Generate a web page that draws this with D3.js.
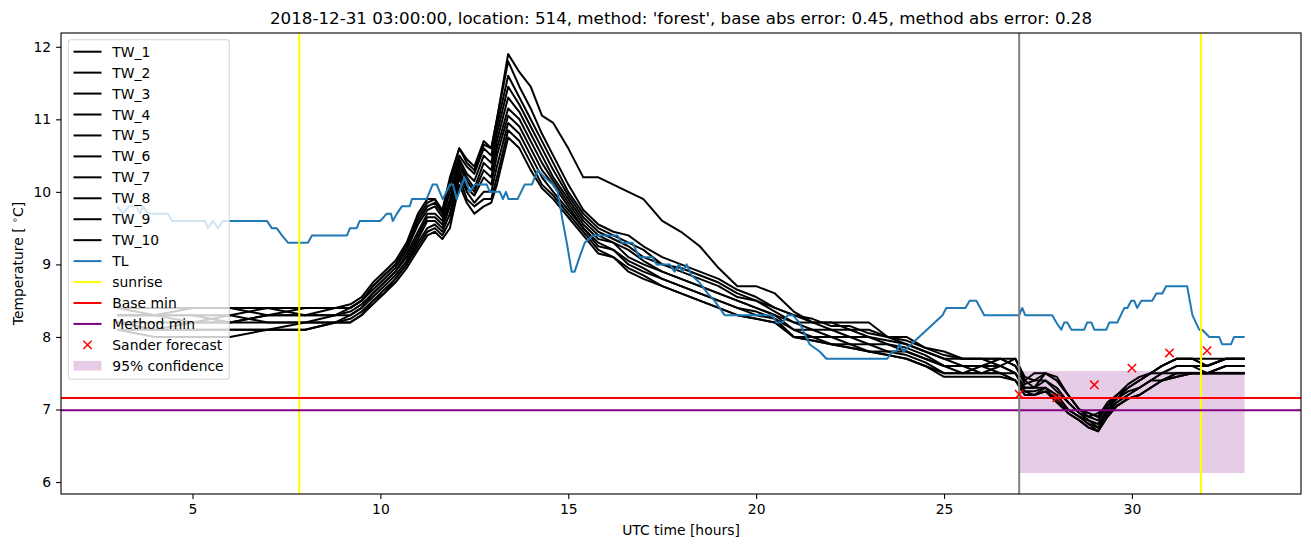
<!DOCTYPE html>
<html><head><meta charset="utf-8">
<script src="https://cdn.jsdelivr.net/npm/d3@7"></script>
<style>
body{margin:0;background:#fff}
svg{display:block}
text{font-family:"DejaVu Sans",sans-serif;fill:#000}
</style>
</head><body>
<svg id="chart" width="1311" height="547"></svg>
<script>
const titleText = "2018-12-31 03:00:00, location: 514, method: 'forest', base abs error: 0.45, method abs error: 0.28";
const xLabel = "UTC time [hours]";
const xTicks = [5, 10, 15, 20, 25, 30];
const yTicks = [6, 7, 8, 9, 10, 11, 12];

const twTimes = [3.0, 4.0, 5.0, 6.0, 7.0, 8.0, 8.8,
  9.2, 9.5, 9.8, 10.1, 10.4, 10.7, 11.0,
  11.25, 11.45, 11.65, 11.85, 12.1, 12.3, 12.5,
  12.75, 12.95, 13.1, 13.4, 13.7, 14.0, 14.3,
  14.6, 15.0, 15.4, 15.8, 16.2, 16.6, 17.0,
  17.5, 18.0, 18.5, 19.0, 19.5, 20.0, 20.5,
  21.0, 21.5, 22.0, 22.5, 23.0, 23.5, 24.0,
  24.5, 25.0, 25.5, 26.0, 26.5, 26.9, 27.15,
  27.4, 27.7, 28.0, 28.3, 28.6, 28.85, 29.1,
  29.35, 29.6, 29.9, 30.2, 30.5, 30.8, 31.2,
  31.6, 32.0, 32.5, 33.0];

const TW_1 = [8.4, 8.4, 8.4, 8.4, 8.4, 8.4, 8.4,
  8.45, 8.55, 8.75, 8.9, 9.05, 9.3, 9.7,
  9.9, 9.9, 9.75, 10.2, 10.6, 10.45, 10.35,
  10.7, 10.6, 11.0, 11.8, 11.45, 11.15, 10.8,
  10.5, 10.1, 9.75, 9.55, 9.45, 9.4, 9.25,
  9.1, 9.0, 8.9, 8.8, 8.65, 8.55, 8.4,
  8.3, 8.2, 8.2, 8.1, 8.1, 8.0, 7.95,
  7.85, 7.75, 7.7, 7.7, 7.7, 7.6, 7.4,
  7.5, 7.5, 7.4, 7.2, 7.0, 6.95, 6.9,
  7.1, 7.2, 7.35, 7.45, 7.5, 7.6, 7.7,
  7.7, 7.7, 7.7, 7.7];
const TW_2 = [8.4, 8.3, 8.4, 8.4, 8.3, 8.4, 8.4,
  8.4, 8.5, 8.7, 8.85, 9.0, 9.25, 9.6,
  9.8, 9.85, 9.7, 10.1, 10.5, 10.35, 10.25,
  10.6, 10.5, 10.9, 11.6, 11.3, 11.0, 10.7,
  10.4, 10.0, 9.7, 9.5, 9.4, 9.3, 9.2,
  9.0, 8.95, 8.85, 8.75, 8.6, 8.5, 8.4,
  8.3, 8.25, 8.15, 8.15, 8.05, 8.0, 7.9,
  7.8, 7.7, 7.7, 7.7, 7.6, 7.7, 7.45,
  7.4, 7.5, 7.45, 7.2, 7.0, 6.9, 6.95,
  7.05, 7.2, 7.3, 7.4, 7.5, 7.6, 7.7,
  7.7, 7.6, 7.7, 7.7];
const TW_3 = [8.3, 8.3, 8.3, 8.3, 8.4, 8.3, 8.4,
  8.4, 8.5, 8.65, 8.8, 8.95, 9.2, 9.55,
  9.75, 9.8, 9.65, 10.0, 10.45, 10.25, 10.15,
  10.5, 10.4, 10.8, 11.45, 11.2, 10.9, 10.6,
  10.3, 9.95, 9.65, 9.45, 9.35, 9.25, 9.1,
  9.0, 8.9, 8.8, 8.7, 8.55, 8.5, 8.35,
  8.2, 8.2, 8.1, 8.1, 8.0, 7.95, 7.9,
  7.8, 7.7, 7.6, 7.6, 7.7, 7.6, 7.35,
  7.4, 7.4, 7.3, 7.1, 6.95, 6.9, 6.85,
  7.05, 7.15, 7.3, 7.4, 7.5, 7.5, 7.6,
  7.6, 7.6, 7.7, 7.7];
const TW_4 = [8.3, 8.3, 8.3, 8.2, 8.3, 8.3, 8.3,
  8.35, 8.45, 8.6, 8.75, 8.9, 9.15, 9.45,
  9.7, 9.7, 9.6, 9.9, 10.4, 10.2, 10.05,
  10.4, 10.3, 10.7, 11.3, 11.1, 10.8, 10.5,
  10.2, 9.9, 9.6, 9.4, 9.3, 9.2, 9.05,
  8.9, 8.8, 8.7, 8.6, 8.5, 8.4, 8.3,
  8.2, 8.1, 8.1, 8.0, 8.0, 7.9, 7.85,
  7.75, 7.6, 7.6, 7.6, 7.6, 7.5, 7.3,
  7.3, 7.4, 7.25, 7.1, 6.95, 6.85, 6.8,
  7.0, 7.15, 7.25, 7.3, 7.4, 7.5, 7.6,
  7.6, 7.5, 7.6, 7.6];
const TW_5 = [8.2, 8.2, 8.2, 8.3, 8.2, 8.2, 8.3,
  8.3, 8.4, 8.6, 8.75, 8.9, 9.1, 9.4,
  9.65, 9.65, 9.55, 9.85, 10.35, 10.15, 10.0,
  10.3, 10.2, 10.6, 11.15, 11.0, 10.7, 10.4,
  10.15, 9.85, 9.55, 9.35, 9.3, 9.1, 9.0,
  8.9, 8.8, 8.7, 8.6, 8.5, 8.4, 8.3,
  8.1, 8.1, 8.0, 8.0, 7.9, 7.9, 7.8,
  7.7, 7.6, 7.6, 7.5, 7.6, 7.5, 7.3,
  7.3, 7.3, 7.2, 7.0, 6.9, 6.85, 6.75,
  7.0, 7.1, 7.2, 7.3, 7.4, 7.5, 7.5,
  7.5, 7.5, 7.6, 7.6];
const TW_6 = [8.2, 8.1, 8.2, 8.2, 8.2, 8.2, 8.2,
  8.3, 8.4, 8.55, 8.7, 8.85, 9.05, 9.35,
  9.6, 9.6, 9.5, 9.8, 10.3, 10.05, 9.95,
  10.2, 10.1, 10.5, 11.05, 10.9, 10.6, 10.3,
  10.1, 9.8, 9.5, 9.3, 9.2, 9.05, 8.95,
  8.8, 8.7, 8.6, 8.5, 8.4, 8.35, 8.25,
  8.1, 8.0, 8.0, 7.9, 7.9, 7.8, 7.8,
  7.7, 7.6, 7.5, 7.6, 7.5, 7.5, 7.25,
  7.25, 7.3, 7.2, 7.0, 6.9, 6.8, 6.75,
  6.95, 7.1, 7.2, 7.3, 7.4, 7.4, 7.5,
  7.5, 7.5, 7.5, 7.5];
const TW_7 = [8.1, 8.1, 8.1, 8.1, 8.1, 8.1, 8.2,
  8.2, 8.3, 8.5, 8.6, 8.8, 9.0, 9.25,
  9.45, 9.5, 9.4, 9.6, 10.2, 9.9, 9.8,
  9.9, 9.9, 10.2, 10.85, 10.7, 10.4, 10.1,
  9.95, 9.7, 9.45, 9.2, 9.1, 8.95, 8.85,
  8.7, 8.6, 8.5, 8.4, 8.3, 8.25, 8.2,
  8.0, 7.95, 7.9, 7.85, 7.8, 7.75, 7.7,
  7.6, 7.5, 7.5, 7.5, 7.5, 7.4, 7.25,
  7.2, 7.25, 7.15, 6.95, 6.85, 6.75, 6.7,
  6.9, 7.05, 7.15, 7.2, 7.3, 7.4, 7.45,
  7.5, 7.5, 7.5, 7.5];
const TW_8 = [8.1, 8.0, 8.0, 8.0, 8.1, 8.1, 8.2,
  8.2, 8.3, 8.45, 8.6, 8.75, 8.95, 9.2,
  9.4, 9.45, 9.35, 9.5, 10.1, 9.85, 9.7,
  9.8, 9.85, 10.1, 10.75, 10.6, 10.3, 10.05,
  9.9, 9.65, 9.4, 9.15, 9.1, 8.9, 8.8,
  8.7, 8.6, 8.5, 8.4, 8.3, 8.25, 8.2,
  8.0, 7.95, 7.9, 7.85, 7.8, 7.75, 7.7,
  7.6, 7.45, 7.45, 7.45, 7.45, 7.4, 7.2,
  7.2, 7.25, 7.1, 6.95, 6.85, 6.75, 6.7,
  6.9, 7.05, 7.15, 7.2, 7.3, 7.4, 7.45,
  7.5, 7.5, 7.5, 7.5];
const TW_9 = [8.2, 8.1, 8.1, 8.1, 8.1, 8.2, 8.2,
  8.25, 8.35, 8.5, 8.65, 8.8, 9.0, 9.3,
  9.5, 9.55, 9.45, 9.7, 10.25, 10.0, 9.85,
  10.0, 10.0, 10.35, 10.95, 10.8, 10.5, 10.2,
  10.0, 9.75, 9.5, 9.25, 9.2, 9.0, 8.9,
  8.8, 8.7, 8.6, 8.5, 8.4, 8.3, 8.25,
  8.0, 8.0, 7.9, 7.9, 7.8, 7.8, 7.75,
  7.65, 7.5, 7.5, 7.5, 7.5, 7.4, 7.2,
  7.2, 7.3, 7.1, 7.0, 6.9, 6.8, 6.7,
  6.95, 7.05, 7.15, 7.2, 7.3, 7.4, 7.5,
  7.5, 7.5, 7.5, 7.5];
const TW_10 = [8.3, 8.3, 8.2, 8.2, 8.3, 8.3, 8.3,
  8.4, 8.5, 8.7, 8.85, 9.0, 9.25, 9.65,
  9.85, 9.9, 9.7, 10.15, 10.6, 10.4, 10.3,
  10.65, 10.6, 11.0, 11.9, 11.65, 11.45, 11.05,
  10.95, 10.6, 10.2, 10.2, 10.1, 10.0, 9.9,
  9.6, 9.45, 9.25, 8.95, 8.7, 8.7, 8.6,
  8.35, 8.2, 8.2, 8.2, 8.2, 8.0, 8.0,
  7.85, 7.8, 7.7, 7.7, 7.7, 7.7, 7.4,
  7.3, 7.5, 7.4, 7.2, 7.0, 6.95, 6.9,
  7.05, 7.2, 7.3, 7.4, 7.5, 7.6, 7.7,
  7.7, 7.6, 7.7, 7.7];
const twNames = ["TW_1","TW_2","TW_3","TW_4","TW_5","TW_6","TW_7","TW_8","TW_9","TW_10"];
const twSeries = [TW_1, TW_2, TW_3, TW_4, TW_5, TW_6, TW_7, TW_8, TW_9, TW_10];

const tlTimes = [3.0, 3.15, 3.3, 3.5, 3.6, 3.68, 3.82, 4.35, 4.45, 5.33, 5.41, 5.54, 5.68, 5.81,
  6.98, 7.11, 7.24, 7.38, 7.54, 8.07, 8.18, 9.11, 9.19, 9.37, 9.45, 10.0, 10.17, 10.28, 10.33,
  10.44, 10.57, 10.78, 10.84, 11.23, 11.39, 11.5, 11.66, 11.85, 11.93, 12.03, 12.24, 12.38,
  12.51, 12.83, 12.91, 13.18, 13.26, 13.34, 13.41, 13.65, 13.84, 14.03, 14.19, 14.37, 14.59,
  14.72, 14.85, 14.96, 15.09, 15.17, 15.3, 15.44, 15.65, 16.31, 16.42, 16.71, 16.8, 16.9,
  17.24, 17.35, 17.7, 17.83, 17.94, 18.04, 18.15, 18.28, 18.49, 18.71, 18.89, 19.16, 20.43,
  20.54, 20.7, 20.84, 20.97, 21.15, 21.42, 21.69, 21.87, 23.49, 23.63, 23.73, 23.81, 23.92,
  24.96, 25.06, 25.57, 25.68, 25.86, 26.07, 27.0, 27.08, 27.16, 27.88, 27.99, 28.12, 28.2,
  28.28, 28.39, 28.73, 28.81, 28.92, 29.0, 29.32, 29.4, 29.61, 29.8, 29.88, 29.98, 30.06,
  30.14, 30.25, 30.54, 30.65, 30.81, 30.91, 31.47, 31.61, 31.79, 31.87, 32.06, 32.32, 32.4,
  32.64, 32.72, 33.0];
const tlValues = [9.8, 9.7, 9.8, 9.8, 9.7, 9.8, 9.7, 9.7, 9.6, 9.6, 9.5, 9.6, 9.5, 9.6,
  9.6, 9.5, 9.5, 9.4, 9.3, 9.3, 9.4, 9.4, 9.5, 9.5, 9.6, 9.6, 9.7, 9.7, 9.6,
  9.7, 9.8, 9.8, 9.9, 9.9, 10.1, 10.1, 9.9, 10.1, 10.1, 9.9, 10.2, 10.0,
  10.1, 10.1, 10.0, 10.0, 9.9, 10.0, 9.9, 9.9, 10.1, 10.1, 10.3, 10.2, 10.1,
  10.0, 9.6, 9.3, 8.9, 8.9, 9.1, 9.3, 9.4, 9.4, 9.3, 9.3, 9.2, 9.1,
  9.1, 9.0, 9.0, 8.9, 9.0, 8.9, 9.0, 8.85, 8.75, 8.6, 8.5, 8.3, 8.3,
  8.2, 8.2, 8.3, 8.3, 8.2, 7.9, 7.8, 7.7, 7.7, 7.8, 7.8, 7.9, 7.8,
  8.3, 8.4, 8.4, 8.5, 8.5, 8.3, 8.3, 8.4, 8.3, 8.3, 8.2, 8.1, 8.2,
  8.2, 8.1, 8.1, 8.2, 8.2, 8.1, 8.1, 8.2, 8.2, 8.4, 8.4, 8.5, 8.5,
  8.4, 8.5, 8.5, 8.6, 8.6, 8.7, 8.7, 8.3, 8.1, 8.1, 8.0, 8.0, 7.9,
  7.9, 8.0, 8.0];

const sunriseHours = [7.84, 31.84];
const forecastHour = [27];
const baseMin = [7.16];
const methodMin = [6.99];
const sanderHours = [27, 28, 29, 30, 31, 32];
const sanderValues = [7.21, 7.16, 7.34, 7.57, 7.78, 7.81];
const confHours = [27, 33];
const confLow = [6.124, 6.124];
const confHigh = [7.53, 7.53];

const legendItems = [
  ...twNames.map(n => ({label: n, type: "line", color: "#000000"})),
  {label: "TL", type: "line", color: "#1f77b4"},
  {label: "sunrise", type: "line", color: "#ffff00"},
  {label: "Base min", type: "line", color: "#ff0000"},
  {label: "Method min", type: "line", color: "#800080"},
  {label: "Sander forecast", type: "x", color: "#ff0000"},
  {label: "95% confidence", type: "patch", color: "#800080"}
];

const svg = d3.select("#chart");
const L = 61, R = 1301, T = 33, B = 494;
const x = d3.scaleLinear().domain([1.5, 34.5]).range([L, R]);
const y = d3.scaleLinear().domain([5.835, 12.19]).range([B, T]);
const FS = 13.9;

svg.append("defs").append("clipPath").attr("id", "clip")
  .append("rect").attr("x", L).attr("y", T).attr("width", R - L).attr("height", B - T);
const plot = svg.append("g").attr("clip-path", "url(#clip)");

// confidence band (lowest zorder)
const area = d3.area().x((d, i) => x(confHours[i])).y0((d, i) => y(confLow[i])).y1((d, i) => y(confHigh[i]));
plot.append("path").datum(confHours).attr("d", area).attr("fill", "#800080").attr("fill-opacity", 0.2);

const line = d3.line();
twSeries.forEach(vals => {
  plot.append("path")
    .attr("d", line(vals.map((v, i) => [x(twTimes[i]), y(v)])))
    .attr("fill", "none").attr("stroke", "#000").attr("stroke-width", 2)
    .attr("stroke-linejoin", "round").attr("stroke-linecap", "butt");
});
plot.append("path")
  .attr("d", line(tlValues.map((v, i) => [x(tlTimes[i]), y(v)])))
  .attr("fill", "none").attr("stroke", "#1f77b4").attr("stroke-width", 2).attr("stroke-linejoin", "round");

sunriseHours.forEach(h => {
  plot.append("line").attr("x1", x(h)).attr("x2", x(h)).attr("y1", T).attr("y2", B)
    .attr("stroke", "#ffff00").attr("stroke-width", 2);
});
plot.append("line").attr("x1", L).attr("x2", R).attr("y1", y(baseMin[0])).attr("y2", y(baseMin[0]))
  .attr("stroke", "#ff0000").attr("stroke-width", 2);
plot.append("line").attr("x1", L).attr("x2", R).attr("y1", y(methodMin[0])).attr("y2", y(methodMin[0]))
  .attr("stroke", "#800080").attr("stroke-width", 2);
plot.append("line").attr("x1", x(forecastHour[0])).attr("x2", x(forecastHour[0])).attr("y1", T).attr("y2", B)
  .attr("stroke", "#808080").attr("stroke-width", 2);

function xMark(g, cx, cy, color) {
  const s = 4.2;
  g.append("path").attr("d", `M${cx - s},${cy - s}L${cx + s},${cy + s}M${cx - s},${cy + s}L${cx + s},${cy - s}`)
    .attr("stroke", color).attr("stroke-width", 1.5).attr("fill", "none");
}
sanderHours.forEach((h, i) => xMark(plot, x(h), y(sanderValues[i]), "#ff0000"));

// axes
const gx = svg.append("g").attr("transform", `translate(0,${B})`)
  .call(d3.axisBottom(x).tickValues(xTicks).tickFormat(d3.format("d")).tickSize(4.9).tickPadding(4.9));
const gy = svg.append("g").attr("transform", `translate(${L},0)`)
  .call(d3.axisLeft(y).tickValues(yTicks).tickFormat(d3.format("d")).tickSize(4.9).tickPadding(4.9));
[gx, gy].forEach(g => {
  g.select(".domain").remove();
  g.selectAll(".tick line").attr("stroke", "#000").attr("stroke-width", 1.1);
  g.selectAll(".tick text").attr("font-family", "DejaVu Sans").attr("font-size", FS).attr("fill", "#000");
});
svg.append("rect").attr("x", L).attr("y", T).attr("width", R - L).attr("height", B - T)
  .attr("fill", "none").attr("stroke", "#000").attr("stroke-width", 1.1);

// labels
svg.append("text").attr("x", (L + R) / 2).attr("y", 24).attr("text-anchor", "middle")
  .attr("font-size", 16.7).text(titleText);
svg.append("text").attr("x", (L + R) / 2).attr("y", 535).attr("text-anchor", "middle")
  .attr("font-size", FS).text(xLabel);
const yl = svg.append("text").attr("transform", `translate(23,${(T + B) / 2}) rotate(-90)`)
  .attr("text-anchor", "middle").attr("font-size", FS);
yl.append("tspan").text("Temperature [ ");
yl.append("tspan").attr("dy", -5).attr("font-size", 9.7).text("\u2218");
yl.append("tspan").attr("dy", 5).text("C]");

// legend
const lg = svg.append("g");
lg.append("rect").attr("x", 68.3).attr("y", 39.8).attr("width", 161).attr("height", 339.5)
  .attr("rx", 2.8).attr("fill", "#fff").attr("fill-opacity", 0.8)
  .attr("stroke", "#cccccc").attr("stroke-opacity", 0.8).attr("stroke-width", 1.1);
legendItems.forEach((it, i) => {
  const cy = 51.7 + 20.94 * i;
  if (it.type === "line") {
    lg.append("line").attr("x1", 73.5).attr("x2", 101.5).attr("y1", cy).attr("y2", cy)
      .attr("stroke", it.color).attr("stroke-width", 2);
  } else if (it.type === "x") {
    xMark(lg, 87.5, cy, it.color);
  } else {
    lg.append("rect").attr("x", 73.5).attr("y", cy - 4.9).attr("width", 28).attr("height", 9.7)
      .attr("fill", it.color).attr("fill-opacity", 0.2);
  }
  lg.append("text").attr("x", 112.3).attr("y", cy + 5).attr("font-size", FS).text(it.label);
});
</script>
</body></html>
